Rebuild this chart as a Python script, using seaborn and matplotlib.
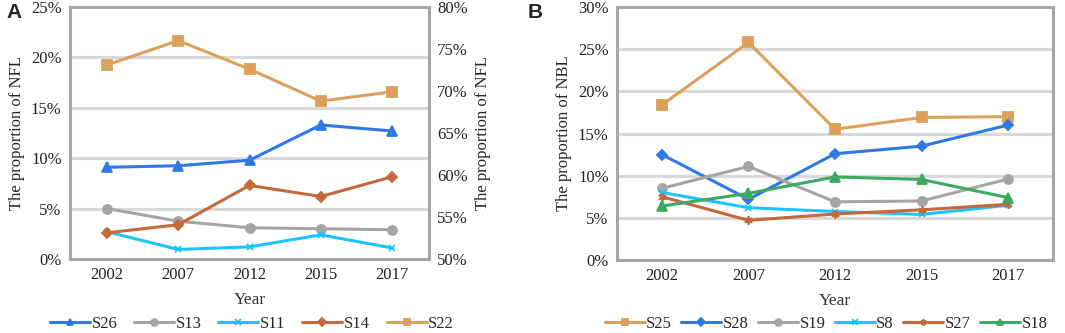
"""Two-panel line chart: proportion of NFL / NBL by year."""

import matplotlib
matplotlib.use("Agg")
import matplotlib.pyplot as plt
import matplotlib.ticker as mticker
import numpy as np
import pandas as pd
import seaborn as sns

sns.set_style("white")
plt.rcParams["font.family"] = ["Liberation Serif", "DejaVu Serif"]

years = ["2002", "2007", "2012", "2015", "2017"]

# panel A (left axis)
s26 = [9.1, 9.25, 9.8, 13.3, 12.7]
s13 = [5.0, 3.75, 3.1, 3.0, 2.9]
s11 = [2.7, 0.95, 1.2, 2.4, 1.1]
s14 = [2.6, 3.4, 7.3, 6.2, 8.15]
# panel A (right axis)
s22 = [73.1, 76.0, 72.6, 68.8, 69.9]

# panel B
s25 = [18.4, 25.8, 15.5, 16.9, 17.0]
s28 = [12.5, 7.2, 12.6, 13.5, 16.0]
s19 = [8.5, 11.1, 6.9, 7.0, 9.6]
s8 = [8.0, 6.2, 5.75, 5.4, 6.5]
s27 = [7.5, 4.7, 5.45, 5.95, 6.6]
s18 = [6.4, 7.9, 9.85, 9.55, 7.4]

STYLE = {
    "S26": ("#2F78E8", "^"),
    "S13": ("#A5A5A5", "o"),
    "S11": ("#1CC4FF", "x"),
    "S14": ("#C5683A", "D"),
    "S22": ("#DDA05C", "s"),
    "S25": ("#DDA05C", "s"),
    "S28": ("#2F78E8", "D"),
    "S19": ("#A5A5A5", "o"),
    "S8": ("#1CC4FF", "x"),
    "S27": ("#C5683A", (6, 2, 0)),
    "S18": ("#3CAA62", "^"),
}
MSIZE = {"o": 6.5, "s": 6.5, "^": 6.5, "D": 5, "x": 5}

GRID = "#D9D9D9"
FRAME = "#A6A6A6"


def draw(ax, name, values):
    color, marker = STYLE[name]
    df = pd.DataFrame({"year": years, "val": values})
    ms = MSIZE.get(marker, 6) if isinstance(marker, str) else 6
    sns.lineplot(data=df, x="year", y="val", ax=ax, color=color, marker=marker,
                 markersize=ms, linewidth=2.2, markeredgecolor=color,
                 markeredgewidth=1.3, label=name, legend=False, sort=False)


def style_axes(ax, ymax):
    ax.set_xlim(-0.52, 4.52)
    ax.set_ylim(0, ymax)
    ax.yaxis.set_major_locator(mticker.MultipleLocator(5))
    ax.yaxis.set_major_formatter(mticker.FuncFormatter(lambda v, p: f"{v:.0f}%"))
    for y in np.arange(5, ymax, 5):
        ax.axhline(y, color=GRID, lw=2.2, zorder=0)
    for sp in ax.spines.values():
        sp.set_color(FRAME)
        sp.set_linewidth(2.2)
    ax.tick_params(axis="both", length=0, labelsize=12, colors="#222222", pad=6)
    ax.set_xlabel("Year", fontsize=12.5, color="#333333", labelpad=6)


def add_legend(handles, labels, xc, ncol, spacing):
    fig.legend(handles, labels, loc="center", ncol=ncol,
               bbox_to_anchor=(xc / 1065, 1 - 324 / 333), frameon=False,
               fontsize=12, handlelength=2.4, columnspacing=spacing,
               handletextpad=0.1, markerscale=0.75, borderaxespad=0, borderpad=0)


fig = plt.figure(figsize=(10.65, 3.33), dpi=100)
axA = fig.add_axes([70 / 1065, 1 - 259 / 333, 359 / 1065, 252 / 333])
axB = fig.add_axes([617 / 1065, 1 - 260 / 333, 436 / 1065, 253 / 333])

# ---- panel A
for name, vals in [("S26", s26), ("S13", s13), ("S11", s11), ("S14", s14)]:
    draw(axA, name, vals)
style_axes(axA, 25)
axA.set_ylabel("The proportion of NFL", fontsize=12, labelpad=4)

axA2 = axA.twinx()
draw(axA2, "S22", s22)
axA2.set_ylim(50, 80)
axA2.yaxis.set_major_locator(mticker.MultipleLocator(5))
axA2.yaxis.set_major_formatter(mticker.FuncFormatter(lambda v, p: f"{v:.0f}%"))
axA2.tick_params(axis="y", length=0, labelsize=12, colors="#222222", pad=6)
axA2.set_ylabel("The proportion of NFL", fontsize=12, labelpad=5)
for sp in axA2.spines.values():
    sp.set_visible(False)

hA = axA.get_legend_handles_labels()
hA2 = axA2.get_legend_handles_labels()
add_legend(hA[0] + hA2[0], hA[1] + hA2[1], 252, 5, 1.0)

# ---- panel B
for name, vals in [("S25", s25), ("S28", s28), ("S19", s19), ("S8", s8),
                   ("S27", s27), ("S18", s18)]:
    draw(axB, name, vals)
style_axes(axB, 30)
axB.set_ylabel("The proportion of NBL", fontsize=12, labelpad=4)
hB = axB.get_legend_handles_labels()
add_legend(hB[0], hB[1], 826, 6, 0.55)

fig.text(6 / 1065, 1 - 13 / 333, "A", fontsize=15, fontweight="bold",
         family="Liberation Sans", va="center")
fig.text(528 / 1065, 1 - 13 / 333, "B", fontsize=15, fontweight="bold",
         family="Liberation Sans", va="center")

fig.savefig("out.png", dpi=100)
